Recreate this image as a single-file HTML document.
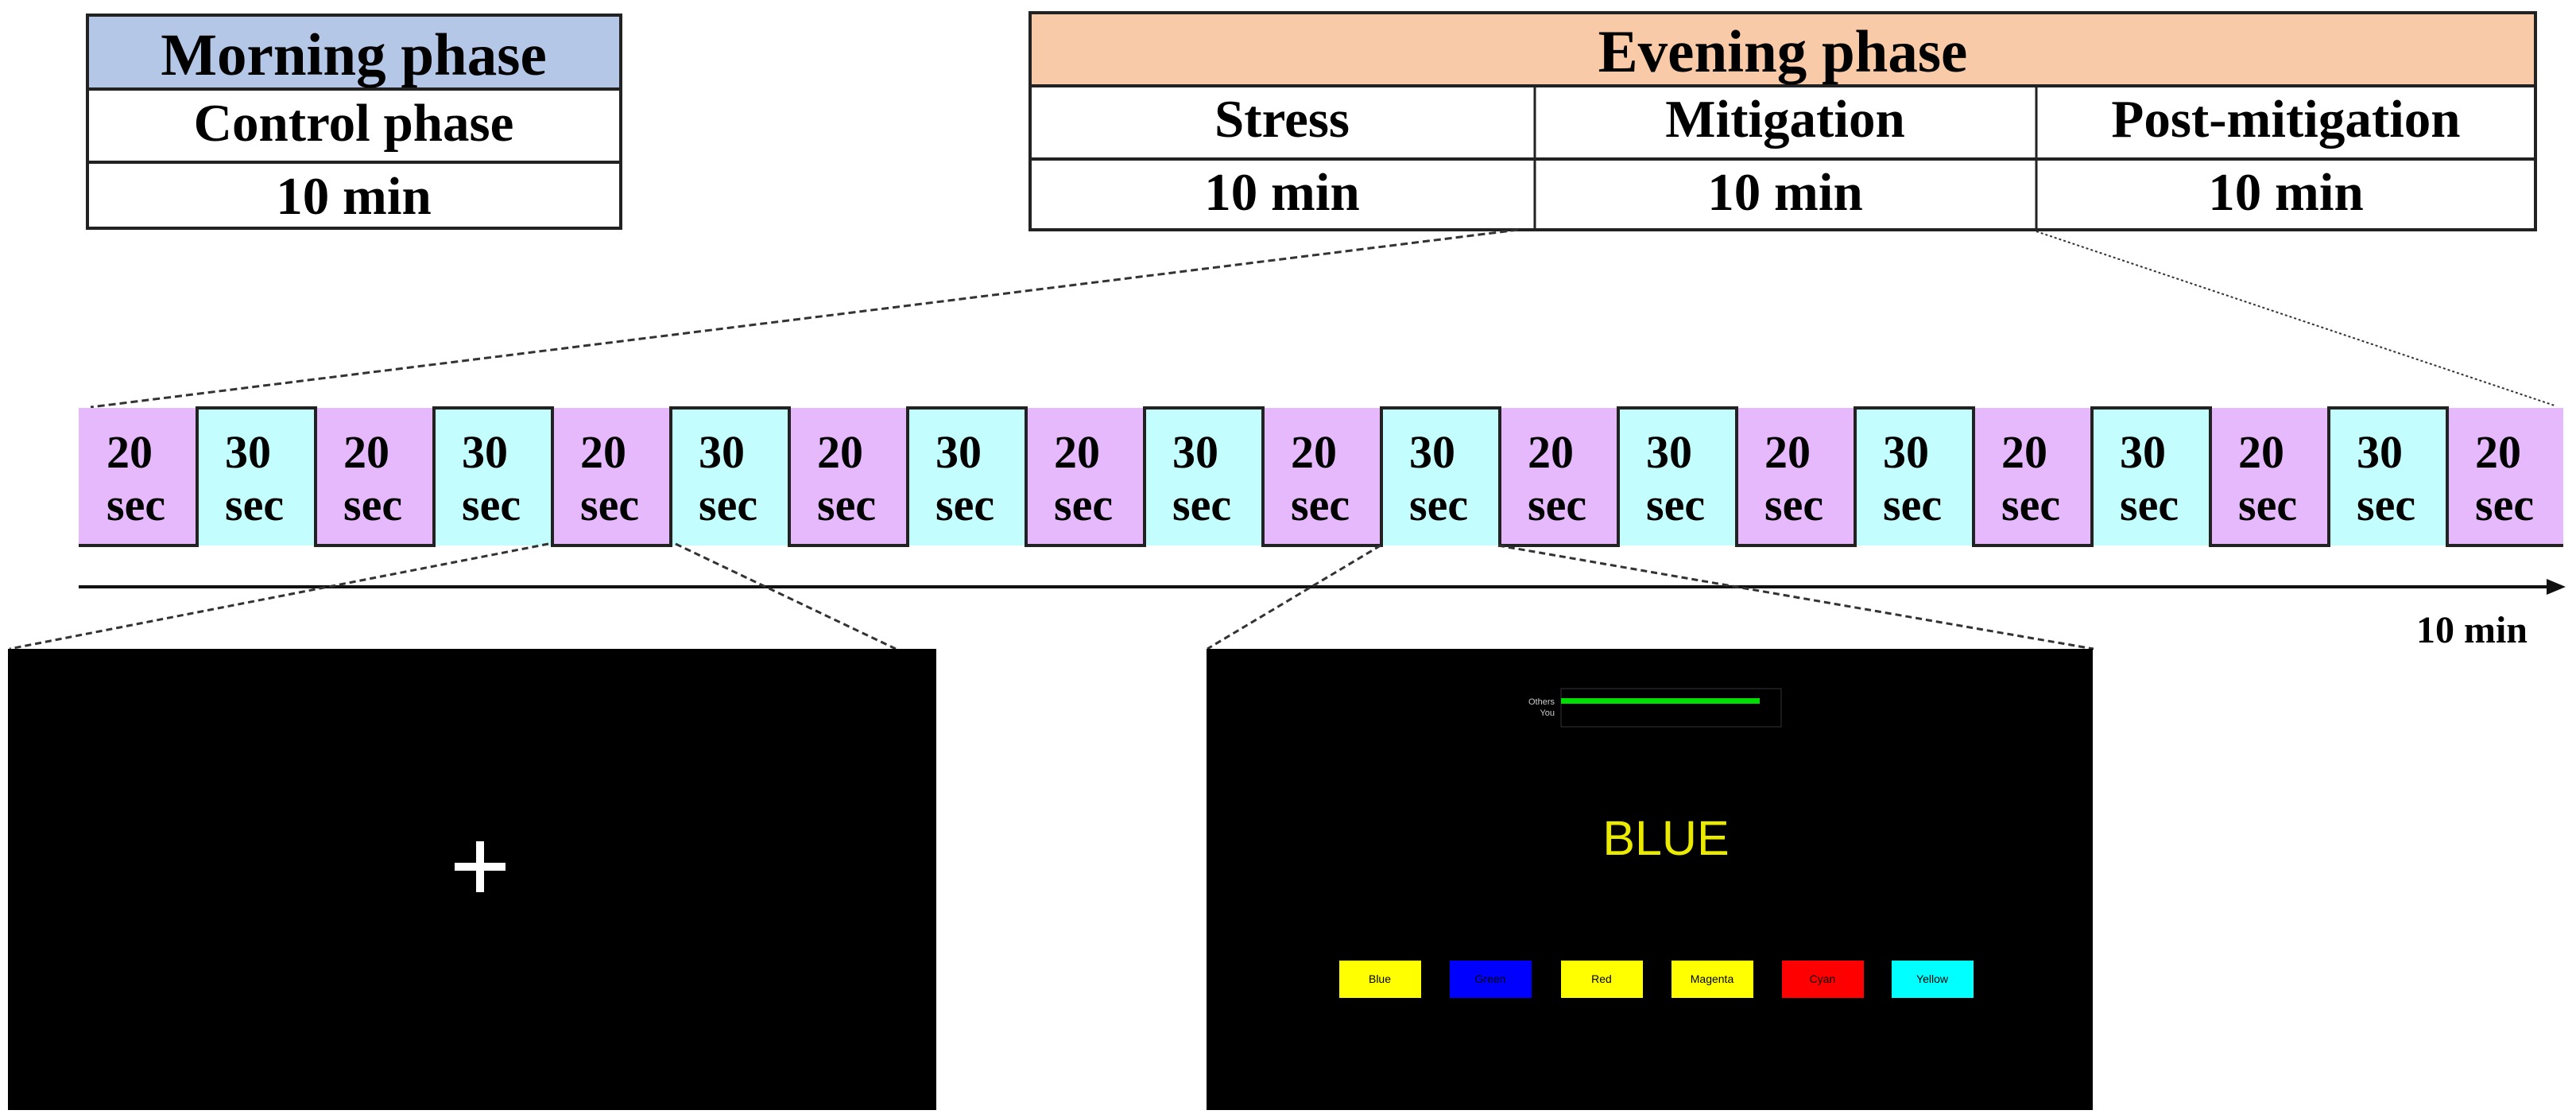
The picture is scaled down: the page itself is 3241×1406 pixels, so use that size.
<!DOCTYPE html>
<html><head><meta charset="utf-8"><style>
html,body{margin:0;padding:0;background:#fff;}
svg{display:block;}
text{font-family:"Liberation Serif",serif;font-weight:bold;fill:#000;}
</style></head><body>
<svg width="3241" height="1406" viewBox="0 0 3241 1406" xmlns="http://www.w3.org/2000/svg">
<!-- Morning table -->
<rect x="110" y="19" width="671" height="93" fill="#b4c7e7"/>
<rect x="110" y="112" width="671" height="175" fill="#fff"/>
<g stroke="#222" stroke-width="4" fill="none">
<rect x="110" y="19" width="671" height="268"/>
<line x1="110" y1="112" x2="781" y2="112"/>
<line x1="110" y1="204" x2="781" y2="204"/>
</g>
<text x="445" y="94" font-size="75" text-anchor="middle">Morning phase</text>
<text x="445" y="177" font-size="67" text-anchor="middle">Control phase</text>
<text x="445" y="269" font-size="67" text-anchor="middle">10 min</text>
<!-- Evening table -->
<rect x="1296" y="16" width="1894" height="92" fill="#f9caa7"/>
<g stroke="#222" stroke-width="4" fill="none">
<rect x="1296" y="16" width="1894" height="273"/>
<line x1="1296" y1="108" x2="3190" y2="108"/>
<line x1="1296" y1="200" x2="3190" y2="200"/>
<line x1="1931" y1="108" x2="1931" y2="289" stroke-width="3"/>
<line x1="2562" y1="108" x2="2562" y2="289" stroke-width="3"/>
</g>
<text x="2243" y="90" font-size="75" text-anchor="middle">Evening phase</text>
<text x="1613" y="172" font-size="67" text-anchor="middle">Stress</text>
<text x="2246" y="172" font-size="67" text-anchor="middle">Mitigation</text>
<text x="2876" y="172" font-size="67" text-anchor="middle">Post-mitigation</text>
<text x="1613" y="264" font-size="67" text-anchor="middle">10 min</text>
<text x="2246" y="264" font-size="67" text-anchor="middle">10 min</text>
<text x="2876" y="264" font-size="67" text-anchor="middle">10 min</text>
<!-- zoom lines -->
<line x1="1910" y1="289" x2="114" y2="512" stroke="#333" stroke-width="3" stroke-dasharray="9,5"/>
<line x1="2562" y1="291" x2="3214" y2="510" stroke="#333" stroke-width="2" stroke-dasharray="3,3"/>
<!-- timeline cells -->
<g id="cells"></g>
<rect x="99" y="513" width="149" height="173" fill="#e6b9fd"/>
<rect x="248" y="513" width="149" height="173" fill="#c3fdfd"/>
<rect x="397" y="513" width="149" height="173" fill="#e6b9fd"/>
<rect x="546" y="513" width="149" height="173" fill="#c3fdfd"/>
<rect x="695" y="513" width="149" height="173" fill="#e6b9fd"/>
<rect x="844" y="513" width="149" height="173" fill="#c3fdfd"/>
<rect x="993" y="513" width="149" height="173" fill="#e6b9fd"/>
<rect x="1142" y="513" width="149" height="173" fill="#c3fdfd"/>
<rect x="1291" y="513" width="149" height="173" fill="#e6b9fd"/>
<rect x="1440" y="513" width="149" height="173" fill="#c3fdfd"/>
<rect x="1589" y="513" width="149" height="173" fill="#e6b9fd"/>
<rect x="1738" y="513" width="149" height="173" fill="#c3fdfd"/>
<rect x="1887" y="513" width="149" height="173" fill="#e6b9fd"/>
<rect x="2036" y="513" width="149" height="173" fill="#c3fdfd"/>
<rect x="2185" y="513" width="149" height="173" fill="#e6b9fd"/>
<rect x="2334" y="513" width="149" height="173" fill="#c3fdfd"/>
<rect x="2483" y="513" width="149" height="173" fill="#e6b9fd"/>
<rect x="2632" y="513" width="149" height="173" fill="#c3fdfd"/>
<rect x="2781" y="513" width="149" height="173" fill="#e6b9fd"/>
<rect x="2930" y="513" width="149" height="173" fill="#c3fdfd"/>
<rect x="3079" y="513" width="146" height="173" fill="#e6b9fd"/>
<polyline fill="none" stroke="#222" stroke-width="4" points="99,686 248,686 248,513 397,513 397,686 546,686 546,513 695,513 695,686 844,686 844,513 993,513 993,686 1142,686 1142,513 1291,513 1291,686 1440,686 1440,513 1589,513 1589,686 1738,686 1738,513 1887,513 1887,686 2036,686 2036,513 2185,513 2185,686 2334,686 2334,513 2483,513 2483,686 2632,686 2632,513 2781,513 2781,686 2930,686 2930,513 3079,513 3079,686 3225,686"/>
<g font-size="58">
<text x="134" y="588">20</text><text x="134" y="654">sec</text>
<text x="283" y="588">30</text><text x="283" y="654">sec</text>
<text x="432" y="588">20</text><text x="432" y="654">sec</text>
<text x="581" y="588">30</text><text x="581" y="654">sec</text>
<text x="730" y="588">20</text><text x="730" y="654">sec</text>
<text x="879" y="588">30</text><text x="879" y="654">sec</text>
<text x="1028" y="588">20</text><text x="1028" y="654">sec</text>
<text x="1177" y="588">30</text><text x="1177" y="654">sec</text>
<text x="1326" y="588">20</text><text x="1326" y="654">sec</text>
<text x="1475" y="588">30</text><text x="1475" y="654">sec</text>
<text x="1624" y="588">20</text><text x="1624" y="654">sec</text>
<text x="1773" y="588">30</text><text x="1773" y="654">sec</text>
<text x="1922" y="588">20</text><text x="1922" y="654">sec</text>
<text x="2071" y="588">30</text><text x="2071" y="654">sec</text>
<text x="2220" y="588">20</text><text x="2220" y="654">sec</text>
<text x="2369" y="588">30</text><text x="2369" y="654">sec</text>
<text x="2518" y="588">20</text><text x="2518" y="654">sec</text>
<text x="2667" y="588">30</text><text x="2667" y="654">sec</text>
<text x="2816" y="588">20</text><text x="2816" y="654">sec</text>
<text x="2965" y="588">30</text><text x="2965" y="654">sec</text>
<text x="3114" y="588">20</text><text x="3114" y="654">sec</text>
</g>
<!-- axis -->
<line x1="99" y1="738" x2="3210" y2="738" stroke="#111" stroke-width="4"/>
<polygon points="3228,738 3204,728 3204,748" fill="#111"/>
<text x="3110" y="808" font-size="48" text-anchor="middle">10 min</text>
<!-- panel connectors -->
<g stroke="#333" stroke-width="3" stroke-dasharray="8,5">
<line x1="690" y1="684" x2="12" y2="816"/>
<line x1="850" y1="684" x2="1127" y2="816"/>
<line x1="1737" y1="686" x2="1519" y2="816"/>
<line x1="1885" y1="686" x2="2634" y2="816"/>
</g>
<!-- left panel -->
<rect x="10" y="816" width="1168" height="580" fill="#000"/>
<rect x="572" y="1085" width="64" height="10" fill="#fff"/>
<rect x="599" y="1058" width="10" height="64" fill="#fff"/>
<!-- right panel -->
<rect x="1518" y="816" width="1115" height="580" fill="#000"/>
<rect x="1964" y="866" width="277" height="48" fill="none" stroke="#333" stroke-width="1"/>
<rect x="1964" y="878" width="250" height="7" fill="#00dd00"/>
<g style="font-family:'Liberation Sans',sans-serif;font-weight:normal">
<text x="1956" y="886" font-size="11" text-anchor="end" fill="#ccc" style="fill:#ccc;font-family:'Liberation Sans',sans-serif;font-weight:normal">Others</text>
<text x="1956" y="900" font-size="11" text-anchor="end" style="fill:#ccc;font-family:'Liberation Sans',sans-serif;font-weight:normal">You</text>
<text x="2096" y="1075" font-size="61" text-anchor="middle" style="fill:#eaea00;font-family:'Liberation Sans',sans-serif;font-weight:normal">BLUE</text>
</g>
<rect x="1685" y="1208" width="103" height="47" fill="#ffff00"/>
<rect x="1824" y="1208" width="103" height="47" fill="#0000ff"/>
<rect x="1964" y="1208" width="103" height="47" fill="#ffff00"/>
<rect x="2103" y="1208" width="103" height="47" fill="#ffff00"/>
<rect x="2242" y="1208" width="103" height="47" fill="#ff0000"/>
<rect x="2380" y="1208" width="103" height="47" fill="#00ffff"/>
<g font-size="14" text-anchor="middle" style="font-family:'Liberation Sans',sans-serif;font-weight:normal">
<text x="1736" y="1236" style="font-family:'Liberation Sans',sans-serif;font-weight:normal">Blue</text>
<text x="1875" y="1236" style="font-family:'Liberation Sans',sans-serif;font-weight:normal">Green</text>
<text x="2015" y="1236" style="font-family:'Liberation Sans',sans-serif;font-weight:normal">Red</text>
<text x="2154" y="1236" style="font-family:'Liberation Sans',sans-serif;font-weight:normal">Magenta</text>
<text x="2293" y="1236" style="font-family:'Liberation Sans',sans-serif;font-weight:normal">Cyan</text>
<text x="2431" y="1236" style="font-family:'Liberation Sans',sans-serif;font-weight:normal">Yellow</text>
</g>
</svg>
</body></html>
